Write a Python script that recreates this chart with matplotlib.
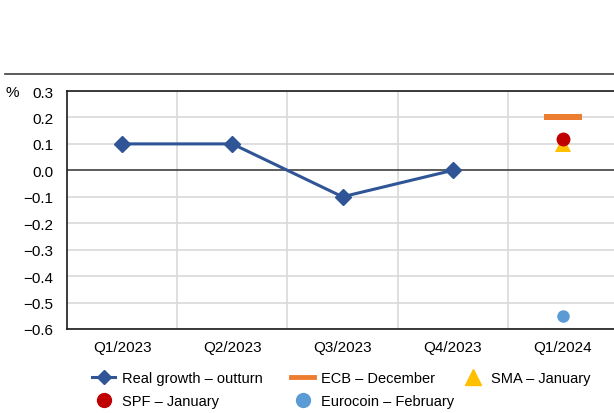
import matplotlib
matplotlib.use("Agg")
import matplotlib.pyplot as plt
from matplotlib.lines import Line2D
import numpy as np

plt.rcParams['font.family'] = ['Liberation Sans', 'DejaVu Sans']

categories = ["Q1/2023", "Q2/2023", "Q3/2023", "Q4/2023", "Q1/2024"]
real_growth = [0.1, 0.1, -0.1, 0.0]
ecb_december = [0.2]
sma_january = [0.1]
spf_january = [0.12]
eurocoin_february = [-0.55]
yticks = [0.3, 0.2, 0.1, 0.0, -0.1, -0.2, -0.3, -0.4, -0.5, -0.6]

c_blue = "#2F5597"
c_orange = "#ED7D31"
c_yellow = "#FFC000"
c_red = "#C00000"
c_lblue = "#5B9BD5"

fs = 11

fig = plt.figure(figsize=(6.14, 4.14), dpi=100)
ax = fig.add_axes([67/614, 1-330/414, (618-67)/614, (330-92)/414])

x = np.arange(len(categories))
ax.set_xlim(-0.5, 4.5)
ax.set_ylim(-0.6, 0.3)

# gridlines
for b in np.arange(0.5, 4.5, 1.0):
    ax.axvline(b, color="#d9d9d9", lw=1.2, zorder=0)
for t in yticks:
    if t != 0.0:
        ax.axhline(t, color="#d9d9d9", lw=1.2, zorder=0)
ax.axhline(0.0, color="#404040", lw=1.2, zorder=1)

ax.plot(x[:len(real_growth)], real_growth, color=c_blue, lw=2.2, marker="D",
        markersize=8, zorder=3)

rect = [(-3.1, -0.5), (3.1, -0.5), (3.1, 0.5), (-3.1, 0.5), (-3.1, -0.5)]
ax.plot([4], ecb_december, linestyle="none", marker=rect, markersize=27,
        color=c_orange, markeredgewidth=0, zorder=3)
ax.plot([4], sma_january, linestyle="none", marker="^", markersize=11,
        color=c_yellow, markeredgewidth=0, zorder=3)
ax.plot([4], spf_january, linestyle="none", marker="o", markersize=10,
        color=c_red, markeredgewidth=0, zorder=4)
ax.plot([4], eurocoin_february, linestyle="none", marker="o", markersize=9,
        color=c_lblue, markeredgewidth=0, zorder=4)

ax.set_xticks(x)
ax.set_xticklabels(categories, fontsize=fs)
ax.set_yticks(yticks)
ax.set_yticklabels([f"{t:.1f}".replace("-", "\u2212") for t in yticks], fontsize=fs)
ax.tick_params(axis="both", length=0, pad=8)
ax.tick_params(axis="y", pad=10)

for s in ["left", "top", "bottom"]:
    ax.spines[s].set_color("#1a1a1a")
    ax.spines[s].set_linewidth(1.2)
ax.spines["right"].set_visible(False)

fig.text(6/614, 1-93/414, "%", fontsize=fs, va="center", ha="left")
fig.add_artist(Line2D([5/614, 1.0], [1-75/414, 1-75/414], color="#404040", lw=1.2))

h_real = Line2D([], [], color=c_blue, lw=2.2, marker="D", markersize=7)
h_spf = Line2D([], [], color=c_red, marker="o", linestyle="none", markersize=10)
h_ecb = Line2D([], [], color=c_orange, lw=3.5)
h_euro = Line2D([], [], color=c_lblue, marker="o", linestyle="none", markersize=10)
h_sma = Line2D([], [], color=c_yellow, marker="^", linestyle="none", markersize=12)

columns = [
    ([h_real, h_spf], ["Real growth \u2013 outturn", "SPF \u2013 January"], 92),
    ([h_ecb, h_euro], ["ECB \u2013 December", "Eurocoin \u2013 February"], 291),
    ([h_sma], ["SMA \u2013 January"], 461),
]
for hs, ls, xpx in columns:
    leg = fig.legend(hs, ls, loc="upper left",
                     bbox_to_anchor=(xpx/614, 1-372/414), borderpad=0, borderaxespad=0,
                     frameon=False, fontsize=10.5, handlelength=1.6,
                     labelspacing=0.62, handletextpad=0.45)

fig.savefig("out.png", dpi=100)
